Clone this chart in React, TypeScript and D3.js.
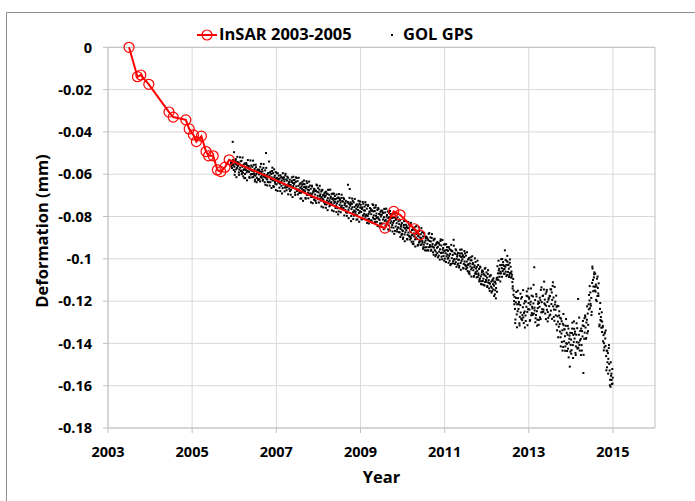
import React from "react";
import * as d3 from "d3";

// InSAR series (year, deformation mm)
const insarYears = [2003.5, 2003.7, 2003.78, 2003.97, 2004.45, 2004.55, 2004.85, 2004.93, 2005.03, 2005.1, 2005.22, 2005.33, 2005.39, 2005.5, 2005.6, 2005.68, 2005.78, 2005.88, 2009.58, 2009.79, 2009.94, 2010.28, 2010.41];
const insarValues = [0, -0.0139, -0.0131, -0.0175, -0.0306, -0.033, -0.0343, -0.0386, -0.0414, -0.0446, -0.042, -0.0493, -0.0513, -0.0513, -0.058, -0.0588, -0.0567, -0.0532, -0.0855, -0.0776, -0.0792, -0.0858, -0.0887];

// GOL GPS: one row per month starting Dec 2005, samples spread through each month
const gpsStartYear = 2005.917;
const gpsMonthly: number[][] = [
  [-.0548,-.0562,-.0541,-.0556,-.0447,-.0533,-.0559,-.0496],
  [-.0565,-.0588,-.0551,-.0529,-.0577,-.0555,-.0570,-.0542],
  [-.0561,-.0546,-.0592,-.0578,-.0553,-.0569,-.0539,-.0583],
  [-.0537,-.0588,-.0565,-.0594,-.0610,-.0555,-.0577,-.0549],
  [-.0599,-.0569,-.0580,-.0547,-.0591,-.0558,-.0585,-.0572],
  [-.0563,-.0589,-.0613,-.0578,-.0572,-.0601,-.0559,-.0583],
  [-.0599,-.0565,-.0584,-.0613,-.0556,-.0604,-.0575,-.0626],
  [-.0607,-.0567,-.0599,-.0617,-.0592,-.0578,-.0628,-.0581],
  [-.0601,-.0624,-.0587,-.0565,-.0613,-.0591,-.0606,-.0578],
  [-.0587,-.0626,-.0570,-.0610,-.0599,-.0638,-.0582,-.0616],
  [-.0500,-.0620,-.0603,-.0625,-.0637,-.0595,-.0612,-.0540],
  [-.0607,-.0592,-.0638,-.0624,-.0599,-.0615,-.0585,-.0629],
  [-.0595,-.0629,-.0660,-.0615,-.0607,-.0645,-.0590,-.0621],
  [-.0648,-.0618,-.0629,-.0596,-.0640,-.0607,-.0634,-.0621],
  [-.0645,-.0605,-.0637,-.0655,-.0630,-.0616,-.0666,-.0619],
  [-.0649,-.0615,-.0634,-.0663,-.0606,-.0654,-.0625,-.0676],
  [-.0630,-.0660,-.0617,-.0647,-.0639,-.0669,-.0626,-.0652],
  [-.0651,-.0674,-.0637,-.0615,-.0663,-.0641,-.0656,-.0628],
  [-.0646,-.0627,-.0687,-.0668,-.0636,-.0657,-.0618,-.0675],
  [-.0633,-.0672,-.0655,-.0677,-.0689,-.0647,-.0664,-.0642],
  [-.0688,-.0658,-.0669,-.0636,-.0680,-.0647,-.0674,-.0661],
  [-.0647,-.0681,-.0712,-.0667,-.0659,-.0697,-.0642,-.0673],
  [-.0687,-.0661,-.0676,-.0698,-.0654,-.0691,-.0669,-.0708],
  [-.0698,-.0658,-.0690,-.0708,-.0683,-.0669,-.0719,-.0672],
  [-.0696,-.0726,-.0678,-.0649,-.0712,-.0683,-.0702,-.0666],
  [-.0686,-.0716,-.0673,-.0703,-.0695,-.0725,-.0682,-.0708],
  [-.0677,-.0716,-.0699,-.0721,-.0733,-.0691,-.0708,-.0686],
  [-.0702,-.0683,-.0743,-.0724,-.0692,-.0713,-.0674,-.0731],
  [-.0697,-.0723,-.0747,-.0712,-.0706,-.0735,-.0693,-.0717],
  [-.0744,-.0714,-.0725,-.0692,-.0736,-.0703,-.0730,-.0717],
  [-.0748,-.0696,-.0738,-.0761,-.0729,-.0710,-.0776,-.0714],
  [-.0745,-.0719,-.0734,-.0756,-.0712,-.0749,-.0727,-.0766],
  [-.0730,-.0760,-.0717,-.0747,-.0739,-.0769,-.0726,-.0752],
  [-.0752,-.0782,-.0734,-.0650,-.0768,-.0739,-.0758,-.0670],
  [-.0748,-.0733,-.0822,-.0765,-.0740,-.0756,-.0726,-.0812],
  [-.0733,-.0772,-.0755,-.0777,-.0789,-.0747,-.0764,-.0742],
  [-.0794,-.0755,-.0769,-.0726,-.0783,-.0740,-.0775,-.0758],
  [-.0745,-.0779,-.0810,-.0765,-.0757,-.0795,-.0740,-.0771],
  [-.0787,-.0753,-.0772,-.0801,-.0744,-.0792,-.0763,-.0814],
  [-.0798,-.0746,-.0788,-.0811,-.0779,-.0760,-.0826,-.0764],
  [-.0789,-.0819,-.0771,-.0742,-.0805,-.0776,-.0795,-.0759],
  [-.0774,-.0813,-.0757,-.0797,-.0786,-.0825,-.0769,-.0803],
  [-.0760,-.0811,-.0788,-.0817,-.0833,-.0778,-.0800,-.0772],
  [-.0792,-.0773,-.0833,-.0814,-.0782,-.0803,-.0764,-.0821],
  [-.0781,-.0815,-.0846,-.0801,-.0793,-.0831,-.0776,-.0807],
  [-.0842,-.0803,-.0817,-.0774,-.0831,-.0788,-.0823,-.0806],
  [-.0840,-.0788,-.0830,-.0853,-.0821,-.0802,-.0868,-.0806],
  [-.0847,-.0813,-.0832,-.0861,-.0804,-.0852,-.0823,-.0874],
  [-.0836,-.0875,-.0819,-.0859,-.0848,-.0887,-.0831,-.0865],
  [-.0869,-.0899,-.0851,-.0822,-.0885,-.0856,-.0875,-.0839],
  [-.0865,-.0846,-.0906,-.0887,-.0855,-.0876,-.0837,-.0894],
  [-.0846,-.0897,-.0874,-.0903,-.0919,-.0864,-.0886,-.0858],
  [-.0919,-.0880,-.0894,-.0851,-.0908,-.0865,-.0900,-.0883],
  [-.0873,-.0907,-.0938,-.0893,-.0885,-.0923,-.0868,-.0899],
  [-.0918,-.0884,-.0903,-.0932,-.0875,-.0923,-.0894,-.0945],
  [-.0933,-.0881,-.0923,-.0946,-.0914,-.0895,-.0961,-.0899],
  [-.0929,-.0959,-.0911,-.0882,-.0945,-.0916,-.0935,-.0899],
  [-.0918,-.0957,-.0901,-.0941,-.0930,-.0969,-.0913,-.0947],
  [-.0908,-.0959,-.0936,-.0965,-.0981,-.0926,-.0948,-.0920],
  [-.0944,-.0925,-.0985,-.0966,-.0934,-.0955,-.0916,-.0973],
  [-.0937,-.0971,-.1002,-.0957,-.0949,-.0987,-.0932,-.0963],
  [-.0999,-.0960,-.0974,-.0931,-.0988,-.0945,-.0980,-.0963],
  [-.0996,-.0944,-.0986,-.1009,-.0977,-.0958,-.1024,-.0962],
  [-.0997,-.0963,-.0982,-.1011,-.0910,-.1002,-.0973,-.1024],
  [-.0977,-.1016,-.0960,-.1000,-.0989,-.1028,-.0972,-.1006],
  [-.1004,-.1034,-.0986,-.0957,-.1020,-.0991,-.1010,-.0974],
  [-.1002,-.0983,-.1043,-.1024,-.0992,-.1013,-.0974,-.1031],
  [-.0985,-.1036,-.1013,-.1042,-.1058,-.1003,-.1025,-.0997],
  [-.1061,-.1022,-.1036,-.0993,-.1050,-.1007,-.1042,-.1025],
  [-.1020,-.1054,-.1085,-.1040,-.1032,-.1070,-.1015,-.1046],
  [-.1072,-.1038,-.1057,-.1086,-.1029,-.1077,-.1048,-.1099],
  [-.1093,-.1041,-.1083,-.1106,-.1074,-.1055,-.1121,-.1059],
  [-.1094,-.1124,-.1076,-.1047,-.1110,-.1081,-.1100,-.1064],
  [-.1089,-.1128,-.1072,-.1112,-.1101,-.1140,-.1084,-.1118],
  [-.1080,-.1131,-.1108,-.1137,-.1153,-.1098,-.1120,-.1092],
  [-.1127,-.1108,-.1168,-.1149,-.1117,-.1138,-.1099,-.1156],
  [-.1035,-.1069,-.1100,-.1055,-.1047,-.1085,-.1030,-.1061],
  [-.1069,-.1030,-.1044,-.1001,-.1058,-.1015,-.1050,-.1033],
  [-.1048,-.0960,-.1038,-.1061,-.1029,-.1010,-.1076,-.1014],
  [-.1062,-.1028,-.1047,-.1076,-.1019,-.1067,-.1038,-.1089],
  [-.1060,-.1075,-.1110,-.1130,-.1095,-.1150,-.1200,-.1180],
  [-.1237,-.1287,-.1206,-.1157,-.1263,-.1215,-.1248,-.1186],
  [-.1237,-.1204,-.1305,-.1274,-.1219,-.1254,-.1188,-.1285],
  [-.1181,-.1266,-.1229,-.1277,-.1304,-.1211,-.1249,-.1200],
  [-.1268,-.1202,-.1227,-.1154,-.1251,-.1178,-.1238,-.1209],
  [-.1183,-.1240,-.1293,-.1216,-.1203,-.1267,-.1174,-.1227],
  [-.1235,-.1178,-.1211,-.1259,-.1040,-.1244,-.1195,-.1281],
  [-.1266,-.1178,-.1248,-.1288,-.1233,-.1202,-.1312,-.1209],
  [-.1227,-.1277,-.1196,-.1147,-.1253,-.1205,-.1238,-.1176],
  [-.1174,-.1240,-.1145,-.1211,-.1193,-.1259,-.1165,-.1222],
  [-.1156,-.1241,-.1204,-.1252,-.1279,-.1186,-.1224,-.1175],
  [-.1177,-.1144,-.1245,-.1214,-.1159,-.1194,-.1128,-.1225],
  [-.1183,-.1240,-.1293,-.1216,-.1203,-.1267,-.1174,-.1227],
  [-.1338,-.1272,-.1297,-.1224,-.1321,-.1248,-.1308,-.1279],
  [-.1371,-.1283,-.1353,-.1393,-.1338,-.1307,-.1417,-.1314],
  [-.1390,-.1333,-.1366,-.1414,-.1317,-.1399,-.1350,-.1436],
  [-.1359,-.1425,-.1330,-.1396,-.1378,-.1510,-.1350,-.1407],
  [-.1382,-.1432,-.1351,-.1302,-.1408,-.1360,-.1393,-.1331],
  [-.1377,-.1344,-.1445,-.1414,-.1359,-.1394,-.1328,-.1425],
  [-.1190,-.1396,-.1359,-.1407,-.1434,-.1341,-.1379,-.1330],
  [-.1408,-.1342,-.1367,-.1294,-.1540,-.1318,-.1378,-.1349],
  [-.1268,-.1325,-.1378,-.1301,-.1288,-.1352,-.1259,-.1312],
  [-.1215,-.1171,-.1197,-.1234,-.1159,-.1222,-.1185,-.1251],
  [-.1114,-.1046,-.1100,-.1131,-.1088,-.1064,-.1150,-.1070],
  [-.1155,-.1194,-.1131,-.1094,-.1176,-.1138,-.1164,-.1116],
  [-.1260,-.1311,-.1237,-.1289,-.1275,-.1326,-.1253,-.1297],
  [-.1324,-.1390,-.1361,-.1399,-.1419,-.1348,-.1377,-.1339],
  [-.1460,-.1434,-.1513,-.1489,-.1446,-.1473,-.1422,-.1497],
  [-.1528,-.1572,-.1605,-.1553,-.1543,-.1592,-.1521,-.1562],
];

// further GPS samples per month (wider scatter), interleaved with the rows above
const gpsMonthlyExtra: number[][] = [
  [-.0542,-.0571,-.0553,-.0580],
  [-.0603,-.0537,-.0614,-.0518],
  [-.0547,-.0603,-.0520,-.0585],
  [-.0600,-.0521,-.0581,-.0619],
  [-.0618,-.0552,-.0629,-.0533],
  [-.0562,-.0618,-.0535,-.0600],
  [-.0615,-.0536,-.0596,-.0634],
  [-.0555,-.0638,-.0581,-.0623],
  [-.0578,-.0634,-.0551,-.0616],
  [-.0631,-.0552,-.0612,-.0650],
  [-.0570,-.0653,-.0596,-.0638],
  [-.0654,-.0588,-.0665,-.0569],
  [-.0656,-.0577,-.0637,-.0675],
  [-.0596,-.0679,-.0622,-.0664],
  [-.0680,-.0614,-.0691,-.0595],
  [-.0625,-.0681,-.0598,-.0663],
  [-.0612,-.0695,-.0638,-.0680],
  [-.0697,-.0631,-.0708,-.0612],
  [-.0642,-.0698,-.0615,-.0680],
  [-.0696,-.0617,-.0677,-.0715],
  [-.0715,-.0649,-.0726,-.0630],
  [-.0660,-.0716,-.0633,-.0698],
  [-.0714,-.0635,-.0695,-.0733],
  [-.0654,-.0737,-.0680,-.0722],
  [-.0680,-.0736,-.0653,-.0718],
  [-.0734,-.0655,-.0715,-.0753],
  [-.0674,-.0757,-.0700,-.0742],
  [-.0759,-.0693,-.0770,-.0674],
  [-.0752,-.0673,-.0733,-.0771],
  [-.0692,-.0775,-.0718,-.0760],
  [-.0779,-.0713,-.0790,-.0694],
  [-.0724,-.0780,-.0697,-.0762],
  [-.0712,-.0795,-.0738,-.0780],
  [-.0797,-.0731,-.0808,-.0712],
  [-.0742,-.0798,-.0715,-.0780],
  [-.0796,-.0717,-.0777,-.0815],
  [-.0814,-.0748,-.0825,-.0729],
  [-.0758,-.0814,-.0731,-.0796],
  [-.0811,-.0732,-.0792,-.0830],
  [-.0750,-.0833,-.0776,-.0818],
  [-.0773,-.0829,-.0746,-.0811],
  [-.0826,-.0747,-.0807,-.0845],
  [-.0765,-.0848,-.0791,-.0833],
  [-.0849,-.0783,-.0860,-.0764],
  [-.0842,-.0763,-.0823,-.0861],
  [-.0783,-.0866,-.0809,-.0851],
  [-.0871,-.0805,-.0882,-.0786],
  [-.0815,-.0871,-.0788,-.0853],
  [-.0814,-.0897,-.0840,-.0882],
  [-.0906,-.0840,-.0917,-.0821],
  [-.0853,-.0909,-.0826,-.0891],
  [-.0909,-.0830,-.0890,-.0928],
  [-.0931,-.0865,-.0942,-.0846],
  [-.0878,-.0934,-.0851,-.0916],
  [-.0934,-.0855,-.0915,-.0953],
  [-.0877,-.0960,-.0903,-.0945],
  [-.0905,-.0961,-.0878,-.0943],
  [-.0962,-.0883,-.0943,-.0981],
  [-.0905,-.0988,-.0931,-.0973],
  [-.0993,-.0927,-.1004,-.0908],
  [-.0990,-.0911,-.0971,-.1009],
  [-.0932,-.1015,-.0958,-.1000],
  [-.1019,-.0953,-.1030,-.0934],
  [-.0965,-.1021,-.0938,-.1003],
  [-.0955,-.1038,-.0981,-.1023],
  [-.1041,-.0975,-.1052,-.0956],
  [-.0990,-.1046,-.0963,-.1028],
  [-.1048,-.0969,-.1029,-.1067],
  [-.1073,-.1007,-.1084,-.0988],
  [-.1025,-.1081,-.0998,-.1063],
  [-.1088,-.1009,-.1069,-.1107],
  [-.1037,-.1120,-.1063,-.1105],
  [-.1070,-.1126,-.1043,-.1108],
  [-.1133,-.1054,-.1114,-.1152],
  [-.1077,-.1160,-.1103,-.1145],
  [-.1176,-.1110,-.1187,-.1091],
  [-.1088,-.1009,-.1069,-.1107],
  [-.1002,-.1085,-.1028,-.1070],
  [-.1071,-.1005,-.1082,-.0986],
  [-.1030,-.1086,-.1003,-.1068],
  [-.1085,-.1140,-.1170,-.1215],
  [-.1304,-.1185,-.1324,-.1151],
  [-.1214,-.1315,-.1165,-.1282],
  [-.1290,-.1148,-.1256,-.1325],
  [-.1294,-.1175,-.1314,-.1141],
  [-.1189,-.1290,-.1140,-.1257],
  [-.1265,-.1123,-.1231,-.1300],
  [-.1167,-.1316,-.1213,-.1289],
  [-.1184,-.1285,-.1135,-.1252],
  [-.1250,-.1108,-.1216,-.1285],
  [-.1147,-.1296,-.1193,-.1269],
  [-.1264,-.1145,-.1284,-.1111],
  [-.1275,-.1133,-.1241,-.1310],
  [-.1222,-.1371,-.1268,-.1344],
  [-.1414,-.1295,-.1434,-.1261],
  [-.1334,-.1435,-.1285,-.1402],
  [-.1317,-.1466,-.1363,-.1439],
  [-.1449,-.1330,-.1469,-.1296],
  [-.1354,-.1455,-.1305,-.1422],
  [-.1420,-.1278,-.1386,-.1455],
  [-.1434,-.1315,-.1454,-.1281],
  [-.1274,-.1375,-.1225,-.1342],
  [-.1239,-.1129,-.1213,-.1266],
  [-.1037,-.1153,-.1073,-.1132],
  [-.1122,-.1200,-.1084,-.1175],
  [-.1319,-.1209,-.1293,-.1346],
  [-.1317,-.1433,-.1353,-.1412],
  [-.1527,-.1435,-.1543,-.1408],
  [-.1598,-.1489,-.1573,-.1590],
];

const xTicks = [2003, 2005, 2007, 2009, 2011, 2013, 2015];
const yTicks = [0, -0.02, -0.04, -0.06, -0.08, -0.1, -0.12, -0.14, -0.16, -0.18];
const legendLabels = ["InSAR 2003-2005", "GOL GPS"];
const xTitle = "Year";
const yTitle = "Deformation (mm)";

const W = 695;
const H = 501;
const L = 108, R = 655, T = 47.3, B = 428;
const FONT = "'Open Sans', 'Noto Sans', sans-serif";

export default function App() {
  const x = d3.scaleLinear().domain([2003, 2016]).range([L, R]);
  const y = d3.scaleLinear().domain([-0.18, 0]).range([B, T]);

  const gps: [number, number][] = [];
  const addRows = (rows: number[][]) =>
    rows.forEach((row, m) => {
      row.forEach((v, j) => {
        gps.push([gpsStartYear + (m + (j + 0.5) / row.length) / 12, v]);
      });
    });
  addRows(gpsMonthly);
  addRows(gpsMonthlyExtra);

  const insar: [number, number][] = insarYears.map((t, i) => [t, insarValues[i]]);
  const line = d3.line<[number, number]>().x((d) => x(d[0])).y((d) => y(d[1]));

  const grid = "#d9d9d9";
  const axisCol = "#bfbfbf";

  return (
    <svg width={W} height={H} style={{ position: "absolute", left: 0, top: 0, background: "#fff" }} fontFamily={FONT}>
      <rect x={0} y={0} width={W} height={H} fill="#fff" />
      {/* outer frame */}
      <path d={`M6.5,${H + 2} L6.5,12.5 L${W + 2},12.5`} fill="none" stroke="#8c8c8c" strokeWidth={1} />

      {/* gridlines */}
      {yTicks.map((t) => (
        <line key={"gy" + t} x1={L} x2={R} y1={y(t)} y2={y(t)} stroke={grid} strokeWidth={1} />
      ))}
      {xTicks.map((t) => (
        <line key={"gx" + t} x1={x(t)} x2={x(t)} y1={T} y2={B} stroke={grid} strokeWidth={1} />
      ))}
      {/* plot border */}
      <line x1={L} x2={R} y1={T} y2={T} stroke={axisCol} />
      <line x1={R} x2={R} y1={T} y2={B} stroke={axisCol} />
      <line x1={L} x2={R} y1={B} y2={B} stroke={axisCol} />
      <line x1={L} x2={L} y1={T} y2={B} stroke={axisCol} />

      {/* ticks */}
      {yTicks.map((t) => (
        <line key={"ty" + t} x1={L - 5} x2={L} y1={y(t)} y2={y(t)} stroke={axisCol} />
      ))}
      {xTicks.map((t) => (
        <line key={"tx" + t} x1={x(t)} x2={x(t)} y1={B} y2={B + 5} stroke={axisCol} />
      ))}

      {/* tick labels */}
      {yTicks.map((t) => (
        <text key={"ly" + t} x={92} y={y(t)} dy="0.36em" textAnchor="end" fontSize={14.5} fontWeight="bold" fill="#000">
          {t === 0 ? "0" : String(t)}
        </text>
      ))}
      {xTicks.map((t) => (
        <text key={"lx" + t} x={x(t)} y={457} textAnchor="middle" fontSize={14.5} fontWeight="bold" fill="#000">
          {t}
        </text>
      ))}

      {/* axis titles */}
      <text x={(L + R) / 2} y={483} textAnchor="middle" fontSize={16.5} fontWeight="bold">{xTitle}</text>
      <text transform={`translate(48,231) rotate(-90)`} textAnchor="middle" fontSize={16.5} fontWeight="bold">{yTitle}</text>

      {/* GPS points */}
      <g fill="#000">
        {gps.map((d, i) => (
          <rect key={i} x={x(d[0]) - 1} y={y(d[1]) - 1} width={2} height={2} />
        ))}
      </g>

      {/* InSAR */}
      <path d={line(insar) || ""} fill="none" stroke="#ff0000" strokeWidth={2} />
      <g fill="none" stroke="#ff0000" strokeWidth={1.2}>
        {insar.map((d, i) => (
          <circle key={i} cx={x(d[0])} cy={y(d[1])} r={5} />
        ))}
      </g>

      {/* legend */}
      <line x1={197} x2={217} y1={35} y2={35} stroke="#ff0000" strokeWidth={2} />
      <circle cx={207} cy={35} r={5} fill="none" stroke="#ff0000" strokeWidth={1.2} />
      <text x={219} y={40} fontSize={16.5} fontWeight="bold">{legendLabels[0]}</text>
      <rect x={391} y={34} width={2} height={2} fill="#000" />
      <text x={403} y={40} fontSize={16.5} fontWeight="bold">{legendLabels[1]}</text>
    </svg>
  );
}
